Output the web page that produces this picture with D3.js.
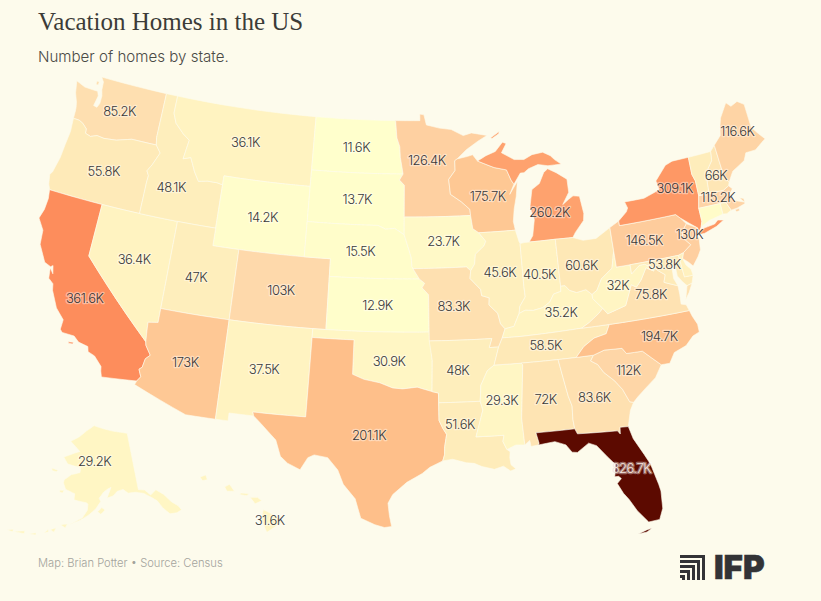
<!DOCTYPE html>
<html>
<head>
<meta charset="utf-8">
<script src="https://cdn.jsdelivr.net/npm/d3@7"></script>
<style>
  html, body { margin: 0; background: #fdfbec; }
  svg { display: block; }
  .title { font-family: "Liberation Serif", serif; font-size: 25px; fill: #3c3c38; }
  .subtitle { font-family: Inter, sans-serif; font-size: 15.1px; font-weight: 300; fill: #4a4a46; }
  .footer { font-family: Inter, sans-serif; font-size: 11.2px; font-weight: 300; fill: #a3a39c; }
  .label { font-family: Inter, sans-serif; font-size: 13px; font-weight: 300; letter-spacing: -0.5px;
           text-anchor: middle; paint-order: stroke; stroke-width: 2.5px; stroke-linejoin: round; }
</style>
</head>
<body>
<div id="map"></div>
<script>
// homes by state, in thousands. states with no printed label are estimated from their colour
var stateNames = ["WA","OR","CA","NV","ID","MT","WY","UT","AZ","CO","NM","ND","SD","NE","KS","OK","TX","MN","IA","MO","AR","LA","WI","IL","MS","MI","IN","KY","TN","AL","OH","GA","FL","SC","NC","VA","WV","PA","MD","NY","NJ","MA","NH","ME","AK","HI","VT","CT","RI","DE"];
var stateHomes = [85.2,55.8,361.6,36.4,48.1,36.1,14.2,47,173,103,37.5,11.6,13.7,15.5,12.9,30.9,201.1,126.4,23.7,83.3,48,51.6,175.7,45.6,29.3,260.2,40.5,35.2,58.5,72,60.6,83.6,826.7,112,194.7,75.8,32,146.5,53.8,309.1,130,115.2,66,116.6,29.2,31.6,50,18,45,40];
var unlabelled = ["VT","CT","RI","DE"];

// colour ramp
var colorValues = [11, 30, 60, 100, 130, 175, 201, 260, 361, 826];
var colorStops = ["#ffffcc","#fff6c4","#fee8b6","#fedaac","#fecfa0","#fec894","#febf8a","#fea26e","#fd8d5c","#5c0a00"];

// shared borders, lon/lat
var mtId = [[-116.05,49],[-116.05,48],[-115.7,47.45],[-114.95,46.95],[-114.35,46.65],[-114.55,45.55],[-113.95,45.7],[-113.45,44.95],[-113,44.45],[-112.3,44.55],[-111.5,44.55],[-111.05,44.48]];
var snake = [[-117.03,43.83],[-117,44.2],[-117.2,44.45],[-116.9,44.85],[-116.47,45.6],[-116.92,46]];
var columbia = [[-118.98,46],[-119.3,45.93],[-120.2,45.73],[-121.2,45.65],[-121.8,45.7],[-122.3,45.55],[-122.76,45.65],[-122.8,45.9],[-123.2,46.15],[-123.55,46.26],[-124.05,46.27]];
var colorado = [[-114.74,36.1],[-114.7,35.6],[-114.63,35]];
var coloradoLow = [[-114.63,35],[-114.57,34.8],[-114.14,34.3],[-114.43,34.05],[-114.53,33.55],[-114.72,33.4],[-114.5,33],[-114.72,32.72]];
var redRiver = [[-100,34.56],[-99.2,34.3],[-98.1,34.13],[-97.2,33.85],[-96.5,33.8],[-95.5,33.9],[-94.48,33.64]];
var sabine = [[-94.04,33],[-94.04,32],[-93.8,31.55],[-93.55,31.2],[-93.7,30.5],[-93.72,30.05],[-93.85,29.7]];
var riverNeIa = [[-96.45,42.5],[-96.1,41.7],[-95.9,41.2],[-95.85,40.7],[-95.77,40.58]];
var riverNeSd = [[-96.45,42.5],[-97.2,42.85],[-97.9,42.8],[-98.5,43]];
var riverKsMo = [[-95.77,40.58],[-95.3,40],[-94.9,39.75],[-95.1,39.5],[-94.62,39.1]];
var redNorth = [[-96.45,45.3],[-96.85,45.6],[-96.56,45.94],[-96.8,46.9],[-96.85,47.5],[-97.1,48],[-97.23,49]];
var stCroix = [[-92.1,46.75],[-92.3,46.65],[-92.3,46.1],[-92.85,45.6],[-92.75,44.75],[-91.9,44.3],[-91.25,43.85],[-91.22,43.5]];
var missUpper = [[-91.22,43.5],[-91.1,42.75],[-90.65,42.5]];
var missIaIl = [[-90.65,42.5],[-90.15,42],[-90.3,41.75],[-91,41.3],[-91.1,40.75],[-91.42,40.38]];
var missIlMo = [[-91.42,40.38],[-91.5,39.95],[-90.75,39.3],[-90.7,38.95],[-90.15,38.8],[-90.2,38.4],[-89.6,37.9],[-89.45,37.3],[-89.15,37]];
var missKyTn = [[-89.15,37],[-89.4,36.5],[-89.7,36]];
var missTnAr = [[-89.7,36],[-90.1,35]];
var missArMs = [[-90.1,35],[-90.6,34.7],[-91.1,33.9],[-91.2,33]];
var missLaMs = [[-91.2,33],[-91.05,32.5],[-91.6,31],[-89.73,31],[-89.83,30.65],[-89.6,30.18]];
var ohioKyOh = [[-82.6,38.4],[-83,38.72],[-83.7,38.63],[-84.2,38.8],[-84.5,39.1],[-84.82,39.1]];
var ohioKyIn = [[-84.82,39.1],[-84.85,38.8],[-85.4,38.7],[-85.75,38.27],[-86.3,38],[-87,37.9],[-87.6,37.95],[-88.05,37.8]];
var ohioKyIl = [[-88.05,37.8],[-88.5,37.1],[-89.15,37]];
var wabash = [[-88.05,37.8],[-87.95,38.2],[-87.5,38.7],[-87.53,39.35],[-87.53,41.72]];
var ohioOhWv = [[-80.52,40.64],[-80.85,39.7],[-81.75,39.2],[-82.2,38.6],[-82.6,38.4]];
var tugFork = [[-82.6,38.4],[-82.6,38.17],[-81.97,37.54]];
var kyVa = [[-81.97,37.54],[-82.3,37.3],[-83.1,36.85],[-83.68,36.6]];
var wvVa = [[-77.75,39.3],[-77.83,39.13],[-78.35,39.4],[-78.87,38.77],[-79.3,38.42],[-79.65,38.6],[-80.3,37.5],[-81.68,37.2],[-81.97,37.54]];
var potomac = [[-76.3,38.05],[-77,38.3],[-77.25,38.4],[-77.05,38.8],[-77.5,39.1],[-77.75,39.3]];
var mdWv = [[-77.75,39.3],[-78.4,39.6],[-78.8,39.6],[-79.48,39.2],[-79.48,39.72]];
var tnNc = [[-84.32,35],[-83.7,35.55],[-82.9,35.95],[-82,36.1],[-81.68,36.59]];
var ncSc = [[-83.1,35],[-82.3,35.2],[-81.05,35.15],[-80.8,34.82],[-79.67,34.8],[-78.55,33.86]];
var savannah = [[-83.1,35],[-83.35,34.7],[-82.9,34.45],[-82.55,33.95],[-81.9,33.4],[-81.45,32.85],[-81.1,32.1],[-80.85,32.03]];
var gaFl = [[-85,31],[-84.86,30.7],[-82.2,30.57],[-82.05,30.37],[-82,30.75],[-81.45,30.72]];
var alGa = [[-85.6,35],[-85.18,32.87],[-85,32.3],[-85.05,31.55],[-85,31]];
var alMs = [[-88.2,35],[-88.1,34.9],[-88.47,31.9],[-88.4,30.37]];
var alFl = [[-85,31],[-87.6,31],[-87.45,30.4],[-87.5,30.3]];
var wiMi = [[-90.42,46.57],[-89.1,46.14],[-88.1,45.95],[-87.8,45.35],[-87.6,45.1]];
var miOh = [[-84.8,41.76],[-83.45,41.73]];
var njPa = [[-74.7,41.36],[-75.13,40.98],[-75.2,40.65],[-74.72,40.15],[-75.4,39.8]];
var nyPa = [[-79.76,42.27],[-79.76,42],[-75.35,42],[-75.05,41.75],[-74.7,41.36]];
var nyNj = [[-74.7,41.36],[-73.95,41]];
var nyVt = [[-73.35,45],[-73.4,44],[-73.25,43.6],[-73.27,42.75]];
var nyMa = [[-73.27,42.75],[-73.5,42.05]];
var nyCt = [[-73.5,42.05],[-73.5,41.3],[-73.65,41]];
var maNhLine = [[-73.27,42.75],[-72.46,42.73]];
var vtNh = [[-71.5,45.01],[-71.6,44.5],[-72.05,44.1],[-72.35,43.5],[-72.46,42.73]];
var nhMa = [[-72.46,42.73],[-71.3,42.7],[-70.82,42.87]];
var nhMe = [[-71.08,45.3],[-70.98,43.4],[-70.7,43.07]];
var ctMa = [[-73.5,42.05],[-71.8,42.02]];
var ctRi = [[-71.8,42.02],[-71.8,41.4]];
var riMa = [[-71.8,42.02],[-71.38,42.02],[-71.12,41.5]];
var deMd = [[-75.79,39.72],[-75.7,38.46],[-75.05,38.45]];
var mdVaShore = [[-75.25,38.03],[-75.65,37.95]];

function rev(a) { return a.slice().reverse(); }
function ring() { return [].concat.apply([], arguments); }

var shapes = {
  WA: [ring([[-124.7,48.38],[-123.9,48.17],[-123.1,48.15],[-122.75,48.15],[-122.6,47.9],[-122.75,47.3],[-122.45,47.25],[-122.3,47.5],[-122.3,47.95],[-122.45,48.3],[-122.5,48.75],[-122.76,49],[-117.03,49],[-117.03,46.42]], [[-116.92,46]], columbia, [[-124.07,46.7],[-124.1,46.9],[-124.2,47.2],[-124.5,47.7]]),
       [[-123.05,48.7],[-122.85,48.7],[-122.85,48.5],[-123.05,48.5]]],
  OR: [ring(rev(columbia), [[-116.92,46]], rev(snake), [[-117.03,42],[-124.21,42],[-124.4,42.3],[-124.55,42.84],[-124.4,43],[-124.15,43.9],[-124.07,44.7],[-123.97,45.5]])],
  CA: [ring([[-124.21,42],[-120,42],[-120,39]], coloradoLow, [[-117.12,32.53],[-117.25,32.85],[-117.3,33.1],[-117.9,33.6],[-118.4,33.75],[-118.5,34.03],[-119.2,34.15],[-119.6,34.42],[-120.47,34.45],[-120.65,34.6],[-120.62,35.15],[-121.3,35.7],[-121.9,36.6],[-122,36.96],[-122.4,37.2],[-122.5,37.78],[-122.2,37.5],[-122.35,37.95],[-122.5,37.85],[-123,38],[-123.7,38.9],[-123.8,39.7],[-124.35,40.3],[-124.15,40.85],[-124.1,41.5]]),
       [[-119.9,34.02],[-119.55,34.07],[-119.55,33.96],[-119.85,33.95]]],
  NV: [ring([[-120,42],[-114.04,42],[-114.04,36.2]], colorado, [[-120,39]])],
  AZ: [ring([[-114.04,37],[-109.05,37],[-109.05,31.33],[-111.07,31.33],[-114.81,32.5]], rev(coloradoLow), rev(colorado), [[-114.04,36.2]])],
  ID: [ring([[-117.03,49]], mtId, [[-111.05,42],[-117.03,42]], snake, [[-117.03,46.42]])],
  MT: [ring([[-116.05,49],[-104.05,49],[-104.05,45],[-111.05,45]], rev(mtId).slice(0,-1))],
  WY: [[[-111.05,45],[-104.05,45],[-104.05,41],[-111.05,41]]],
  UT: [[[-114.04,42],[-111.05,42],[-111.05,41],[-109.05,41],[-109.05,37],[-114.04,37]]],
  CO: [[[-109.05,41],[-102.05,41],[-102.05,37],[-109.05,37]]],
  NM: [[[-109.05,37],[-103,37],[-103.04,32],[-106.62,32],[-106.53,31.78],[-108.2,31.78],[-108.2,31.33],[-109.05,31.33]]],
  TX: [ring([[-103,36.5],[-100,36.5]], redRiver, [[-94.04,33.55]], sabine, [[-94.7,29.35],[-95.2,29],[-96.2,28.5],[-97.1,27.8],[-97.4,27.3],[-97.3,26.6],[-97.15,25.96],[-97.6,25.9],[-98.2,26.05],[-99.1,26.4],[-99.5,27.5],[-100.3,28.3],[-100.7,29.1],[-101.4,29.77],[-102.3,29.88],[-102.7,29.7],[-103.15,28.98],[-104,29.3],[-104.5,29.65],[-104.9,30.55],[-106,31.4],[-106.53,31.78],[-106.62,32],[-103.04,32]])],
  OK: [ring([[-103,37],[-94.62,37],[-94.43,35.4]], rev(redRiver), [[-100,36.5],[-103,36.5]])],
  KS: [ring([[-102.05,40],[-95.3,40],[-94.9,39.75],[-95.1,39.5],[-94.62,39.1],[-94.62,37],[-102.05,37]])],
  NE: [ring([[-104.05,43],[-98.5,43]], rev(riverNeSd).slice(1), riverNeIa.slice(1,-1), [[-95.77,40.58],[-95.3,40],[-102.05,40],[-102.05,41],[-104.05,41]])],
  SD: [ring([[-104.05,45.94],[-96.56,45.94],[-96.85,45.6],[-96.45,45.3],[-96.45,42.5]], riverNeSd.slice(1), [[-104.05,43]])],
  ND: [ring([[-104.05,49],[-97.23,49]], rev(redNorth).slice(0,5), [[-104.05,45.94]])],
  MN: [ring([[-97.23,49],[-95.15,49],[-95.15,49.38],[-94.8,49.33],[-94.6,48.75],[-93.5,48.55],[-92.5,48.45],[-91.5,48.07],[-90.8,48.2],[-89.5,48],[-90.3,47.7],[-91.3,47.25]], stCroix, [[-96.45,43.5]], redNorth)],
  IA: [ring([[-96.45,43.5]], missUpper, missIaIl, [[-91.73,40.61]], rev(riverNeIa).slice(0,-1), [[-96.45,42.5]])],
  MO: [ring([[-95.77,40.58],[-91.73,40.61]], missIlMo, missKyTn, [[-90.37,36],[-90.15,36.5],[-94.62,36.5],[-94.62,37]], rev(riverKsMo).slice(0,-1))],
  AR: [ring([[-94.62,36.5],[-90.15,36.5],[-90.37,36],[-89.7,36]], missTnAr.slice(1), missArMs.slice(1), [[-94.04,33],[-94.04,33.55],[-94.48,33.64],[-94.43,35.4]])],
  LA: [ring([[-94.04,33]], missArMs.slice(-1), missLaMs.slice(1), [[-89.4,30.05],[-89.45,29.7],[-89.4,29.3],[-89.1,29.05],[-89.45,28.95],[-89.9,29.25],[-90.5,29.1],[-91.3,29.3],[-91.8,29.5],[-92.3,29.55],[-93.2,29.78]], rev(sabine).slice(0,-1))],
  MS: [ring([[-90.1,35]], alMs, [[-89,30.4]], rev(missLaMs).slice(0,-1), rev(missArMs).slice(0,-1))],
  AL: [ring([[-88.2,35]], alGa, alFl.slice(1), [[-88,30.25],[-88.05,30.6]], rev(alMs).slice(0,-1))],
  GA: [ring(alGa, gaFl.slice(1), [[-81.15,31.6]], rev(savannah))],
  FL: [ring(gaFl, [[-81.25,30],[-80.7,29],[-80.4,28.4],[-80.1,27.2],[-80.03,26.8],[-80.1,25.8],[-80.4,25.2],[-81.1,25.15],[-81.7,25.9],[-82.1,26.6],[-82.4,27],[-82.7,27.6],[-82.4,27.85],[-82.55,28],[-82.8,28],[-82.65,28.7],[-83.1,29.2],[-83.7,29.9],[-84.2,30.1],[-85,29.65],[-85.35,29.7],[-85.7,30.15],[-86.4,30.4]], rev(alFl).slice(0,-1)),
       [[-81.85,24.56],[-81.3,24.72],[-80.95,24.78],[-81.3,24.6]]],
  SC: [ring(ncSc, [[-79.1,33.2],[-79.9,32.7],[-80.5,32.3]], rev(savannah).slice(0,-1))],
  NC: [ring([[-84.32,35]], ncSc, [[-77.95,33.85],[-77.5,34.4],[-76.6,34.65],[-76,35.1],[-75.5,35.25],[-75.5,35.7],[-75.75,36.2],[-75.87,36.55]], rev(tnNc).slice(0,-1))],
  TN: [ring([[-90.1,35],[-88.2,35],[-85.6,35]], tnNc, [[-83.68,36.6],[-88.07,36.5],[-89.4,36.5],[-89.7,36]])],
  KY: [ring([[-89.4,36.5],[-88.07,36.5],[-83.68,36.6]], rev(kyVa), rev(tugFork).slice(1), ohioKyOh.slice(1), ohioKyIn.slice(1), ohioKyIl.slice(1))],
  IN: [ring([[-87.53,41.72],[-87.2,41.76],[-86.82,41.76],[-84.8,41.76]], ohioKyIn, wabash.slice(1,-1))],
  IL: [ring([[-90.65,42.5],[-87.8,42.5],[-87.6,41.85]], rev(wabash), ohioKyIl.slice(1), rev(missIlMo).slice(1), rev(missIaIl).slice(1,-1))],
  WI: [ring(stCroix, missUpper.slice(1), [[-87.8,42.5],[-87.9,43],[-87.75,43.7],[-87.5,44.4],[-87.3,45.25],[-88,44.55]], rev(wiMi), [[-90.8,46.95],[-91.2,46.87]])],
  MI: [ring(wiMi, [[-87,45.7],[-86.7,45.7],[-86.3,45.9],[-85.5,46.08],[-84.7,45.95],[-83.6,45.95],[-84.1,46.25],[-84.4,46.5],[-85,46.75],[-85.9,46.68],[-86.6,46.45],[-87.4,46.5],[-88.4,46.95],[-87.95,47.45],[-88.25,47.55],[-88.9,47.05],[-89.7,46.85]]),
       ring([[-86.82,41.76]], miOh, [[-83.2,42],[-82.45,42.6],[-82.35,43],[-82.5,44],[-83,44.07],[-83.4,43.9],[-83.9,43.65],[-83.3,44.3],[-83.3,45.05],[-84.1,45.5],[-84.75,45.78],[-85.1,45.6],[-85.55,45],[-86.2,44.7],[-86.5,43.7],[-86.25,43],[-86.5,42.1]]),
       [[-89.2,47.85],[-88.45,48.17],[-88.5,48.05],[-89.1,47.8]]],
  OH: [ring(miOh, [[-82.7,41.5],[-81.7,41.5],[-80.52,41.98]], ohioOhWv, ohioKyOh.slice(1), [[-84.8,41.76]])],
  PA: [ring([[-80.52,41.98]], nyPa, njPa.slice(1), [[-75.79,39.72],[-79.48,39.72],[-80.52,39.72],[-80.52,40.64]])],
  NY: [ring(rev(nyPa), [[-79.76,42.27],[-79.05,42.7],[-78.9,42.9],[-79.05,43.27],[-77.5,43.27],[-76.5,43.5],[-76.2,43.6],[-76.3,44.1],[-75.3,44.85],[-74.7,45]], nyVt, nyMa.slice(1), nyCt.slice(1), [[-73.9,40.75]], rev(nyNj).slice(0,-1)).slice(1),
       [[-74,40.6],[-73.7,40.87],[-72.6,40.98],[-72.3,41.15],[-71.87,41.07],[-72.5,40.82],[-73.5,40.6]]],
  NJ: [ring(nyNj, [[-74.05,40.65],[-74.25,40.5],[-74,40.45],[-74.1,39.75],[-74.4,39.4],[-74.9,38.95],[-75.15,39.2],[-75.55,39.5]], rev(njPa).slice(0,-1))],
  DE: [ring([[-75.79,39.72],[-75.4,39.8],[-75.55,39.5],[-75.4,39.1],[-75.1,38.8]], rev(deMd).slice(0,-1))],
  MD: [ring([[-79.48,39.72]], deMd, mdVaShore, [[-75.9,38.2],[-76.2,38.6],[-76.2,39.3],[-76.1,39.4],[-76.45,39.2],[-76.5,38.5]], potomac, mdWv.slice(1,-1))],
  WV: [ring(ohioOhWv.slice(0,1), [[-80.52,39.72]], rev(mdWv).slice(0,-1), wvVa, tugFork.slice(0).reverse().slice(1), rev(ohioOhWv).slice(1,-1))],
  VA: [ring([[-83.68,36.6],[-81.68,36.59],[-75.87,36.55],[-76,36.9],[-76.35,37],[-76.3,37.55]], potomac, wvVa.slice(1), kyVa.slice(1,-1)),
       [[-75.25,38.03],[-75.65,37.95],[-75.95,37.2],[-75.6,37.55]]],
  CT: [ring(ctMa, ctRi.slice(1), [[-72.9,41.25]], rev(nyCt).slice(0,-1))],
  RI: [ring(riMa, [[-71.5,41.37]], [[-71.8,41.4]])],
  MA: [ring(rev(nyMa), maNhLine.slice(1), nhMa.slice(1), [[-70.6,42.65],[-71,42.3],[-70.6,41.95],[-70,41.75],[-70.25,42.05],[-69.95,41.95],[-69.97,41.65],[-70.65,41.52]], rev(riMa).slice(0,-1), rev(ctMa).slice(1,-1)),
       [[-70.82,41.46],[-70.5,41.48],[-70.5,41.35],[-70.75,41.33]]],
  VT: [ring(nyVt.slice(0,1), vtNh, rev(nyVt).slice(0,-1))],
  NH: [ring(vtNh.slice(0,1), nhMe, nhMa.slice().reverse().slice(0,-1), rev(vtNh).slice(0,-1))],
  ME: [ring([[-71.08,45.3],[-70.4,45.75],[-70.25,46.2],[-70,46.7],[-69.23,47.46],[-68.9,47.18],[-68.3,47.35],[-67.8,47.07],[-67.8,45.7],[-67.45,45.3],[-67,44.85],[-68,44.4],[-68.8,44.4],[-69.1,44],[-70.2,43.6],[-70.7,43.07],[-70.98,43.4]])],
  AK: [[[-141,69.65],[-144,70],[-148,70.4],[-152,70.85],[-156.5,71.35],[-160,70.4],[-163,69.3],[-166.5,68.35],[-164,67.6],[-162,66.9],[-164,66.55],[-168,65.6],[-166,64.6],[-161,64.3],[-161,63.5],[-164,63],[-166.2,62],[-166.3,61.5],[-165.2,60.5],[-162,60],[-162,59],[-158,58.7],[-157.5,58.5],[-157.6,57.5],[-159,56.2],[-161,55.5],[-163,54.8],[-159.5,55.8],[-157,56.8],[-155,57.8],[-153.5,59],[-154,59.5],[-152.5,60.5],[-151,61],[-150,61.2],[-151.5,59.5],[-149.5,59.8],[-148,60.5],[-146,60.7],[-144.5,60],[-142,59.95],[-139.5,59.5],[-137.5,58.6],[-136,57.8],[-135,56.5],[-133.5,55.2],[-131.5,55],[-130,55.2],[-130.5,56],[-132,57],[-133.5,58.5],[-135.5,59.6],[-137.5,59],[-139,60],[-141,60.3]],
       [[-154.5,57.3],[-153.2,58],[-152.2,57.6],[-153.5,56.9]],
       [[-171.5,63.4],[-169,63.3],[-169.5,63],[-171,63]],
       [[-167,60.2],[-165.5,60.3],[-166,59.8],[-167,59.9]],
       [[-165,54.7],[-163,55],[-163.5,54.3]],
       [[-167.5,53.6],[-166,54.1],[-166.3,53.3]],
       [[-169,52.8],[-168,53.6],[-167.8,53.2]],
       [[-172.8,52.1],[-171,52.6],[-170.9,52.2]],
       [[-176.9,51.7],[-174,52.4],[-174,51.9]],
       [[-178.5,51.6],[-177,52.05],[-177,51.6]]],
  HI: [[[-155.9,20.25],[-155.1,19.85],[-154.8,19.5],[-155.7,18.95],[-156.05,19.7]],
       [[-156.7,20.95],[-156.25,20.95],[-156,20.75],[-156.4,20.58]],
       [[-158.25,21.55],[-157.95,21.7],[-157.65,21.3],[-158.1,21.3]],
       [[-159.75,22.1],[-159.4,22.23],[-159.3,21.95],[-159.6,21.9]],
       [[-157.3,21.2],[-156.75,21.17],[-156.9,21.05],[-157.3,21.1]]]
};

// small shifts so labels land where the original put them, in px
var labelNudge = {WA:[-1,-1],OR:[0,1],NV:[0,-2],CA:[-3,9],ID:[-7,8],MT:[-1,-1],UT:[-4,3],NM:[-1,-1],OK:[0,4],TX:[8,5],MN:[-4,-8],IA:[1,-1],MO:[-5,-1],AR:[-3,1],LA:[-11,-13],MS:[-1,-4],AL:[1,-2],FL:[12,3],NC:[12,-1],TN:[-1,-1],KY:[4,-3],VA:[6,-8],WV:[0,-1],OH:[-3,3],IL:[-1,-3],WI:[3,1],MI:[-5,3],PA:[-4,-1],NY:[6,-10],NJ:[-2,-10],MD:[-3,-5],MA:[-2,-2],ME:[2,-7],AK:[-11,-9],HI:[0,-1]};

var svgWidth = 821, svgHeight = 601;

var svg = d3.select("#map").append("svg")
  .attr("width", svgWidth)
  .attr("height", svgHeight);

var color = d3.scaleLinear().domain(colorValues).range(colorStops);

// add points along long straight edges so the 49th parallel etc stays curved
function densify(r) {
  var out = [];
  r.forEach(function(p, i) {
    var q = r[(i + 1) % r.length];
    var n = Math.ceil(Math.max(Math.abs(q[0] - p[0]), Math.abs(q[1] - p[1])) / 1);
    for (var k = 0; k < n; k++) out.push([p[0] + (q[0] - p[0]) * k / n, p[1] + (q[1] - p[1]) * k / n]);
  });
  return out;
}

// d3.geo wants a set winding order, flip any ring that came out the wrong way
function toFeature(name, value) {
  var polys = shapes[name].map(function(r) {
    var c = densify(r);
    c.push(c[0]);
    if (d3.geoArea({type: "Polygon", coordinates: [c]}) > 2 * Math.PI) c.reverse();
    return [c];
  });
  return {type: "Feature", name: name, value: value, geometry: {type: "MultiPolygon", coordinates: polys}};
}

var features = stateNames.map(function(n, i) { return toFeature(n, stateHomes[i]); });

var projection = d3.geoAlbersUsa().fitExtent([[38, 77], [766, 534]], {type: "FeatureCollection", features: features.filter(function(f) { return f.name != "AK" && f.name != "HI"; })});
var path = d3.geoPath(projection);

svg.append("g").selectAll("path")
  .data(features)
  .enter()
  .append("path")
  .attr("d", path)
  .attr("fill", function(d) { return color(d.value); })
  .attr("stroke", "#fdfbec")
  .attr("stroke-width", 0.6);

// label sits on the biggest piece of the state
function labelPoint(f) {
  var best = null, bestArea = -1;
  f.geometry.coordinates.forEach(function(p) {
    var poly = {type: "Polygon", coordinates: p};
    var a = path.area(poly);
    if (a > bestArea) { bestArea = a; best = poly; }
  });
  var c = path.centroid(best), n = labelNudge[f.name] || [0, 0];
  return [c[0] + n[0], c[1] + n[1]];
}

svg.append("g").selectAll("text")
  .data(features.filter(function(f) { return unlabelled.indexOf(f.name) < 0; }))
  .enter()
  .append("text")
  .attr("class", "label")
  .attr("x", function(d) { return labelPoint(d)[0]; })
  .attr("y", function(d) { return labelPoint(d)[1] + 5; })
  .attr("fill", function(d) { return d.value > 500 ? "#f3e6de" : "#38383a"; })
  .attr("stroke", "rgba(255,255,255,0.4)")
  .text(function(d) { return (+d.value.toFixed(1)) + "K"; });

svg.append("text").attr("class", "title").attr("x", 38).attr("y", 30).text("Vacation Homes in the US");
svg.append("text").attr("class", "subtitle").attr("x", 38).attr("y", 62).text("Number of homes by state.");
svg.append("text").attr("class", "footer").attr("x", 38).attr("y", 567).text("Map: Brian Potter \u2022 Source: Census");

// IFP mark
var logo = svg.append("g").attr("transform", "translate(680,555)");
[0, 5, 10, 15, 20].forEach(function(o) {
  logo.append("path")
    .attr("d", "M0 " + (o + 1.5) + " H" + (25 - 1.5 - o) + " V25")
    .attr("fill", "none")
    .attr("stroke", "#333336")
    .attr("stroke-width", 3);
});
svg.append("text")
  .attr("x", 714).attr("y", 579)
  .attr("font-family", "Inter, sans-serif")
  .attr("font-weight", 900)
  .attr("font-size", 33)
  .attr("fill", "#333336")
  .attr("stroke", "#333336")
  .attr("stroke-width", 0.6)
  .text("IFP");
</script>
</body>
</html>
